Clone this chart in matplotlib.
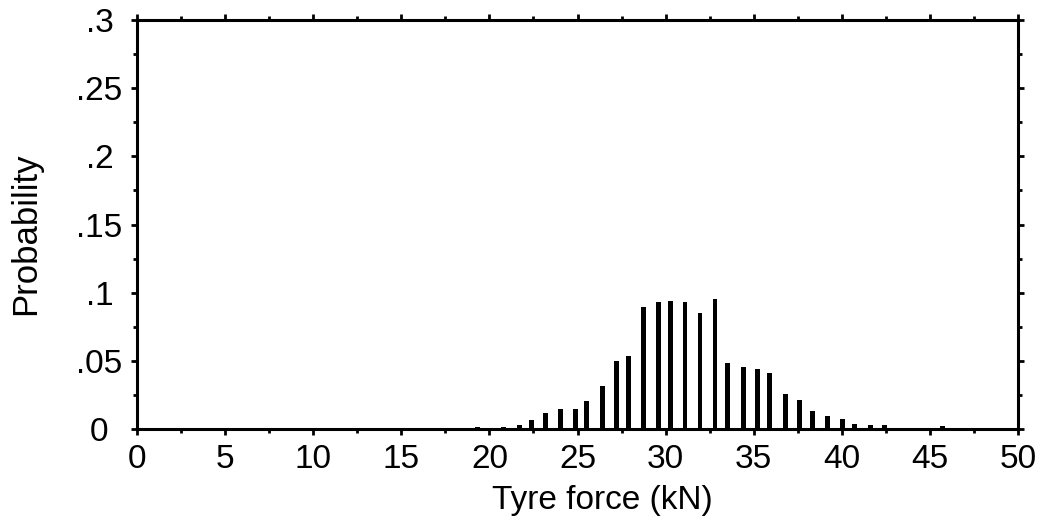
import matplotlib
matplotlib.use("Agg")
import matplotlib.pyplot as plt
from matplotlib.ticker import MultipleLocator, FixedLocator, FixedFormatter

# Data
force_kN = [19.3, 20.8, 21.7, 22.4, 23.2, 24.05, 24.9, 25.5, 26.4, 27.2, 27.9,
            28.75, 29.6, 30.3, 31.1, 31.95, 32.8, 33.5, 34.4, 35.2, 35.9,
            36.8, 37.6, 38.35, 39.2, 40.05, 40.7, 41.6, 42.4, 45.7]
probability = [0.0015, 0.0018, 0.003, 0.007, 0.012, 0.0147, 0.015, 0.0206, 0.0316,
               0.050, 0.0535, 0.0897, 0.0934, 0.0943, 0.0934, 0.0848, 0.0951,
               0.0488, 0.0456, 0.0439, 0.0412, 0.026, 0.0215, 0.0135, 0.010,
               0.0071, 0.0035, 0.003, 0.0027, 0.002]

x_ticks = [0, 5, 10, 15, 20, 25, 30, 35, 40, 45, 50]
y_ticks = [0, 0.05, 0.1, 0.15, 0.2, 0.25, 0.3]
y_tick_labels = ["0", ".05", ".1", ".15", ".2", ".25", ".3"]

plt.rcParams['font.family'] = ['Liberation Sans', 'DejaVu Sans']

fig = plt.figure(figsize=(10.49, 5.24), dpi=100)
ax = fig.add_axes([0.1306, 0.181, 0.9705 - 0.1306, 0.962 - 0.181])

ax.bar(force_kN, probability, width=0.28, color="black", align="center")

ax.set_xlim(0, 50)
ax.set_ylim(0, 0.3)

ax.xaxis.set_major_locator(FixedLocator(x_ticks))
ax.xaxis.set_minor_locator(MultipleLocator(2.5))
ax.yaxis.set_major_locator(FixedLocator(y_ticks))
ax.yaxis.set_major_formatter(FixedFormatter(y_tick_labels))
ax.yaxis.set_minor_locator(MultipleLocator(0.025))

for s in ax.spines.values():
    s.set_linewidth(2.2)
    s.set_color("black")

ax.tick_params(which="both", direction="out", top=True, right=True,
               labeltop=False, labelright=False, width=2.0, color="black")
ax.tick_params(which="major", length=4, labelsize=24)
ax.tick_params(axis="x", which="major", pad=7)
ax.tick_params(axis="y", which="major", pad=23)
ax.tick_params(which="minor", length=3)
for lab in ax.get_yticklabels():
    lab.set_horizontalalignment("center")

ax.set_xlabel("Tyre force (kN)", fontsize=24)
ax.xaxis.set_label_coords(0.528, -0.137)
ax.set_ylabel("Probability", fontsize=25)
ax.yaxis.set_label_coords(-0.108, 0.477)

fig.savefig("out.png", dpi=100)
